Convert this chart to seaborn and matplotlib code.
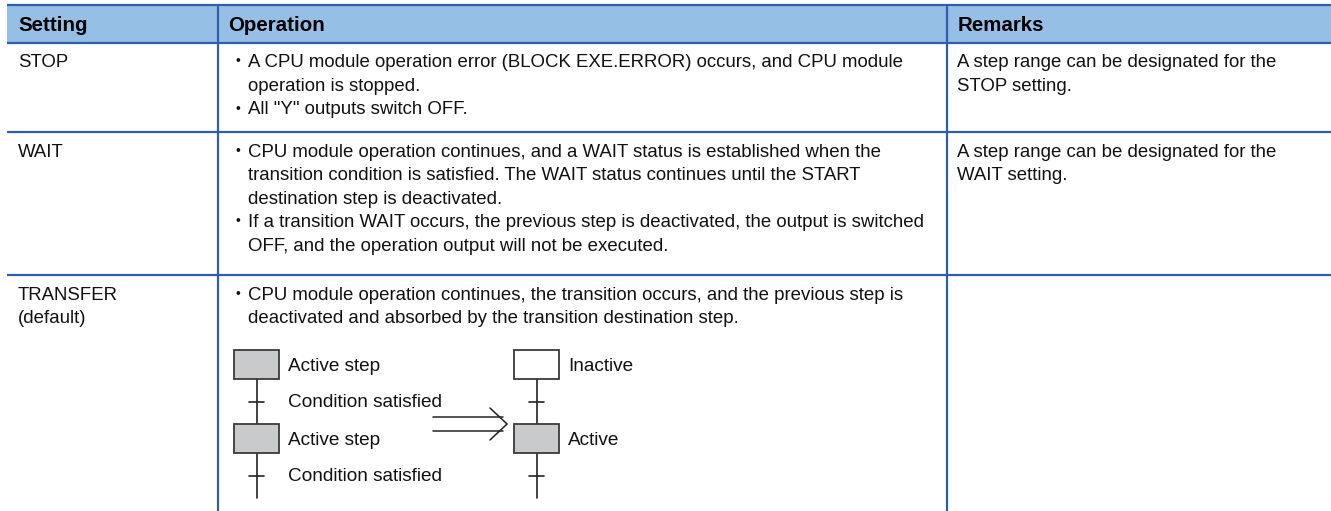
import matplotlib
matplotlib.use("Agg")
import matplotlib.pyplot as plt
from matplotlib.patches import Rectangle
import seaborn as sns

# ---- data -------------------------------------------------------------
headers = ["Setting", "Operation", "Remarks"]
settings = [["STOP"], ["WAIT"], ["TRANSFER", "(default)"]]
operations = [
    [["A CPU module operation error (BLOCK EXE.ERROR) occurs, and CPU module",
      "operation is stopped."],
     ["All \"Y\" outputs switch OFF."]],
    [["CPU module operation continues, and a WAIT status is established when the",
      "transition condition is satisfied. The WAIT status continues until the START",
      "destination step is deactivated."],
     ["If a transition WAIT occurs, the previous step is deactivated, the output is switched",
      "OFF, and the operation output will not be executed."]],
    [["CPU module operation continues, the transition occurs, and the previous step is",
      "deactivated and absorbed by the transition destination step."]],
]
remarks = [
    ["A step range can be designated for the", "STOP setting."],
    ["A step range can be designated for the", "WAIT setting."],
    [],
]
before_steps = ["Active step", "Active step"]
before_active = [True, True]
after_steps = ["Inactive", "Active"]
after_active = [False, True]
condition_label = "Condition satisfied"

# ---- style ------------------------------------------------------------
sns.set_theme(style="white")
plt.rcParams["font.family"] = ["Liberation Sans", "DejaVu Sans"]

HEAD_BG = "#95BFE5"
RULE = "#2F5FAA"
TXT = "#111111"
BOX_FILL = "#C9CACB"
BOX_EDGE = "#3A3A3A"
FS = 13.4
HFS = 14.8

W, H = 1331, 511
fig = plt.figure(figsize=(W / 100, H / 100), dpi=100)
ax = fig.add_axes([0, 0, 1, 1])
ax.set_xlim(0, W)
ax.set_ylim(H, 0)
ax.axis("off")

left, top, head_bot = 7, 5, 43
col_x = [7, 217.5, 947]
row_bounds = [43, 132.5, 275.5, H]
line_h = 23.5

# header
ax.add_patch(Rectangle((left, top), W - left, head_bot - top, facecolor=HEAD_BG, edgecolor="none"))
for h, cx in zip(headers, col_x):
    ax.text(cx + 11, 23.5 + 7.5, h, fontsize=HFS, fontweight="bold", color="black", va="baseline")

# rules
ax.plot([left, W], [top, top], color=RULE, lw=1.6, solid_capstyle="butt")
for yb in row_bounds[:-1]:
    ax.plot([left, W], [yb, yb], color=RULE, lw=1.6, solid_capstyle="butt")
for cx in col_x[1:]:
    ax.plot([cx, cx], [top, H], color=RULE, lw=1.6, solid_capstyle="butt")


def put(x, yc, s, fs=FS):
    ax.text(x, yc + 6.7, s, fontsize=fs, color=TXT, va="baseline")


for r in range(3):
    y0 = row_bounds[r] + 17.5
    for i, s in enumerate(settings[r]):
        put(col_x[0] + 11, y0 + i * line_h, s)
    for i, s in enumerate(remarks[r]):
        put(col_x[2] + 10, y0 + i * line_h, s)
    k = 0
    for para in operations[r]:
        for j, s in enumerate(para):
            yc = y0 + k * line_h
            if j == 0:
                ax.text(237.5, yc + 1, "\u2022", fontsize=10, color=TXT, ha="center", va="center")
            put(248, yc, s)
            k += 1


# ---- transition diagram ----------------------------------------------
def column(xl, names, active, label_cond):
    bw, bh = 45, 29
    ys = [350, 424]
    xc = xl + bw / 2
    for yb, nm, act in zip(ys, names, active):
        ax.add_patch(Rectangle((xl, yb), bw, bh, facecolor=BOX_FILL if act else "white",
                               edgecolor=BOX_EDGE, lw=1.3, zorder=3))
        put(xl + bw + 9, yb + bh / 2, nm, fs=FS * 1.02)
    segs = [(ys[0] + bh, ys[1]), (ys[1] + bh, 498)]
    for a, b in segs:
        ax.plot([xc, xc], [a, b], color="#222222", lw=1.2, zorder=2)
        mid = a + 23
        ax.plot([xc - 7.5, xc + 7.5], [mid, mid], color="#222222", lw=1.2, zorder=2)
        if label_cond:
            put(xl + bw + 9, mid - 2, condition_label, fs=FS * 1.02)


column(234, before_steps, before_active, True)
column(514, after_steps, after_active, False)

# double arrow
for yy in (417, 431):
    ax.plot([433, 503], [yy, yy], color="#222222", lw=1.1)
ax.plot([490, 507, 490], [408, 424, 440], color="#222222", lw=1.1, solid_joinstyle="miter")

fig.savefig("out.png", dpi=100, facecolor="white")
